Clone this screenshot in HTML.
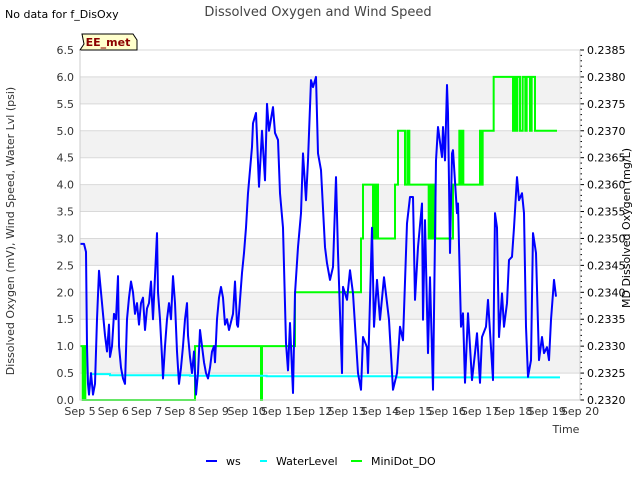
<!DOCTYPE html>
<html><head><meta charset="utf-8"><style>
body{margin:0;background:#fff;font-family:"Liberation Sans","DejaVu Sans",sans-serif}
svg{display:block}
text{font-family:"DejaVu Sans","Liberation Sans",sans-serif}
</style></head><body>
<svg id="chart" width="640" height="480" viewBox="0 0 640 480">
<text x="5" y="18" font-size="11" fill="#000">No data for f_DisOxy</text>
<text x="318" y="16" font-size="13" fill="#444" text-anchor="middle">Dissolved Oxygen and Wind Speed</text>
<g id="bands"></g><g id="grid"></g>
<path d="M80,50 L84,44 L82,34 L133,34 L137,40 L137,50 Z" fill="#ffffcc" stroke="#000" stroke-width="1"/>
<text x="108" y="46" font-size="11" font-weight="bold" fill="#8b0000" text-anchor="middle">EE_met</text>
<g id="series"></g><g id="axes"></g>
<text x="14" y="231" font-size="11" fill="#333" text-anchor="middle" transform="rotate(-90 14 231)">Dissolved Oxygen (mV), Wind Speed, Water Lvl (psi)</text>
<text x="630" y="228" font-size="11" fill="#000" text-anchor="middle" transform="rotate(-90 630 228)">MD Dissolved Oxygen (mg/L)</text>
<text x="566" y="433" font-size="11" fill="#333" text-anchor="middle">Time</text>
<g>
<line x1="206" y1="461" x2="217" y2="461" stroke="#0000ff" stroke-width="2"/>
<text x="226" y="465" font-size="11" fill="#000">ws</text>
<line x1="260" y1="461" x2="267" y2="461" stroke="#00ffff" stroke-width="2"/>
<text x="276" y="465" font-size="11" fill="#000">WaterLevel</text>
<line x1="351" y1="461" x2="362" y2="461" stroke="#00ff00" stroke-width="2"/>
<text x="371" y="465" font-size="11" fill="#000">MiniDot_DO</text>
</g>
</svg>
<script>
const xTicks=["Sep 5","Sep 6","Sep 7","Sep 8","Sep 9","Sep 10","Sep 11","Sep 12","Sep 13","Sep 14","Sep 15","Sep 16","Sep 17","Sep 18","Sep 19","Sep 20"];
const yTicks=["0.0","0.5","1.0","1.5","2.0","2.5","3.0","3.5","4.0","4.5","5.0","5.5","6.0","6.5"];
const y2Ticks=["0.2320","0.2325","0.2330","0.2335","0.2340","0.2345","0.2350","0.2355","0.2360","0.2365","0.2370","0.2375","0.2380","0.2385"];
const wsDays=[5.00,5.06,5.12,5.18,5.21,5.24,5.27,5.33,5.39,5.45,5.51,5.57,5.63,5.69,5.75,5.81,5.87,5.90,5.96,6.02,6.08,6.14,6.17,6.23,6.29,6.35,6.41,6.47,6.53,6.59,6.65,6.71,6.77,6.83,6.89,6.95,7.01,7.07,7.13,7.19,7.25,7.31,7.34,7.40,7.46,7.49,7.55,7.61,7.67,7.73,7.79,7.85,7.91,7.97,8.03,8.09,8.15,8.21,8.24,8.30,8.36,8.42,8.48,8.54,8.60,8.66,8.72,8.78,8.84,8.90,8.96,9.02,9.05,9.11,9.17,9.23,9.29,9.35,9.41,9.47,9.59,9.65,9.71,9.74,9.86,9.92,9.98,10.04,10.16,10.19,10.28,10.37,10.46,10.55,10.61,10.67,10.79,10.85,10.94,11.00,11.09,11.18,11.24,11.30,11.39,11.45,11.54,11.63,11.69,11.78,11.84,11.93,11.99,12.08,12.14,12.23,12.35,12.41,12.50,12.59,12.68,12.74,12.86,12.89,13.01,13.10,13.19,13.34,13.43,13.49,13.61,13.64,13.76,13.82,13.91,14.00,14.12,14.27,14.39,14.51,14.60,14.69,14.81,14.90,14.99,15.05,15.14,15.26,15.29,15.35,15.44,15.50,15.59,15.68,15.74,15.86,15.89,15.95,16.01,16.04,16.10,16.16,16.19,16.31,16.34,16.43,16.49,16.55,16.64,16.76,16.85,16.91,17.00,17.06,17.18,17.24,17.39,17.45,17.51,17.57,17.66,17.72,17.81,17.87,17.96,18.02,18.11,18.17,18.26,18.32,18.38,18.44,18.53,18.59,18.68,18.77,18.86,18.92,19.01,19.07,19.13,19.22,19.28];
const wsVals=[2.9,2.9,2.9,2.75,1.0,0.3,0.1,0.5,0.1,0.3,1.5,2.4,2.0,1.6,1.2,0.9,1.4,0.8,1.0,1.6,1.5,2.3,1.0,0.6,0.4,0.3,1.5,1.9,2.2,2.0,1.6,1.8,1.4,1.8,1.9,1.3,1.7,1.8,2.2,1.5,2.3,3.1,2.0,1.5,0.8,0.4,1.0,1.5,1.8,1.5,2.3,1.8,0.9,0.3,0.6,1.0,1.5,1.8,1.2,0.8,0.5,0.9,0.1,0.5,1.3,1.0,0.7,0.5,0.4,0.6,0.9,1.0,0.7,1.5,1.9,2.1,1.9,1.4,1.5,1.3,1.6,2.2,1.4,1.36,2.36,2.73,3.2,3.84,4.7,5.14,5.33,3.96,5.0,4.08,5.5,5.0,5.44,4.96,4.83,3.84,3.2,1.06,0.55,1.43,0.13,1.98,2.84,3.47,4.58,3.71,4.45,5.94,5.81,6.0,4.58,4.27,2.84,2.54,2.23,2.47,4.14,2.73,0.5,2.1,1.86,2.41,1.98,0.5,0.19,1.17,0.98,0.5,3.2,1.36,2.23,1.49,2.28,1.49,0.19,0.5,1.36,1.11,3.28,3.77,3.77,1.86,2.84,3.65,1.49,3.34,0.87,2.28,0.19,4.45,5.07,4.51,5.07,4.45,5.85,5.33,2.73,4.58,4.64,3.47,3.65,1.36,1.61,0.32,1.61,0.37,0.87,1.24,0.32,1.17,1.36,1.86,0.37,3.47,3.2,1.17,1.98,1.36,1.8,2.6,2.66,3.2,4.14,3.71,3.84,3.47,1.36,0.43,0.74,3.1,2.73,0.74,1.17,0.87,0.98,0.74,1.49,2.23,1.92];
const wlDays=[5.3,5.9,8.3,10.6,14.5,19.4];
const wlVals=[0.48,0.46,0.45,0.44,0.42,0.42];
const doDays=[5.0,5.08,5.12,5.16,8.45,10.43,10.46,11.45,13.43,13.49,13.79,13.82,13.86,13.9,13.94,14.45,14.54,14.75,14.82,14.88,15.46,15.52,15.56,15.6,15.66,16.19,16.38,16.42,16.45,16.5,17.0,17.04,17.08,17.41,17.99,18.02,18.08,18.12,18.2,18.28,18.36,18.4,18.5,18.55,18.65,19.31];
const doVals=[1,0,1,0,1,0,1,2,3,4,3,4,3,4,3,4,5,4,5,4,3,4,3,4,3,4,5,4,5,4,5,4,5,6,5,6,5,6,5,6,5,6,5,6,5,5];

const L=80,R=580,T=50,B=400;
const xS=d=>L+(d-5)*(R-L)/15;
const yS=v=>B-v*(B-T)/6.5;
const NS="http://www.w3.org/2000/svg";
function mk(tag,attrs,parent){const e=document.createElementNS(NS,tag);for(const k in attrs)e.setAttribute(k,attrs[k]);parent.appendChild(e);return e;}
const bands=document.getElementById('bands'),grid=document.getElementById('grid'),series=document.getElementById('series'),axes=document.getElementById('axes');
for(let i=0;i<13;i++){ if(i%2===1){const r=mk('rect',{x:L,y:yS((i+1)*0.5),width:R-L,height:yS(i*0.5)-yS((i+1)*0.5),fill:'#f2f2f2'},bands);

}}
yTicks.forEach((t,i)=>{const v=parseFloat(t);const y=yS(v);
const g=mk('line',{x1:L,x2:R,y1:y,y2:y,stroke:'#d9d9d9','stroke-width':1},grid);


const tx=mk('text',{x:L-6,y:y+4,'font-size':11,fill:'#333','text-anchor':'end'},axes);tx.textContent=t;

});
y2Ticks.forEach((t,i)=>{const y=B-i*(B-T)/13;
const tx=mk('text',{x:587,y:y+4,'font-size':11,fill:'#000'},axes);tx.textContent=t;

});
for(let i=0;i<=65;i++){const y=B-i*(B-T)/65;const m=mk('line',{x1:R,x2:R+(i%5===0?4:2),y1:y,y2:y,stroke:'#000','stroke-width':1},axes);

}
xTicks.forEach((t,i)=>{const x=xS(5+i);const tx=mk('text',{x:x,y:415,'font-size':11,fill:'#333','text-anchor':'middle'},axes);tx.textContent=t;

});
const ax=mk('path',{d:`M${L},${T}V${B}H${R}V${T}`,fill:'none',stroke:'#ccc','stroke-width':1},axes);


function stepPath(ds,vs){let d='';for(let i=0;i<ds.length;i++){const x=xS(ds[i]),y=yS(vs[i]);if(i===0)d+=`M${x},${y}`;else d+=`H${x}V${y}`;}return d;}
const p1=mk('path',{d:stepPath(doDays,doVals),fill:'none',stroke:'#00ff00','stroke-width':2},series);


const p2=mk('path',{d:stepPath(wlDays,wlVals),fill:'none',stroke:'#00ffff','stroke-width':2},series);


const p3=mk('path',{d:'M'+wsDays.map((d,i)=>xS(d)+','+yS(wsVals[i])).join('L'),fill:'none',stroke:'#0000ff','stroke-width':2,'stroke-linejoin':'round'},series);


</script>
</body></html>
